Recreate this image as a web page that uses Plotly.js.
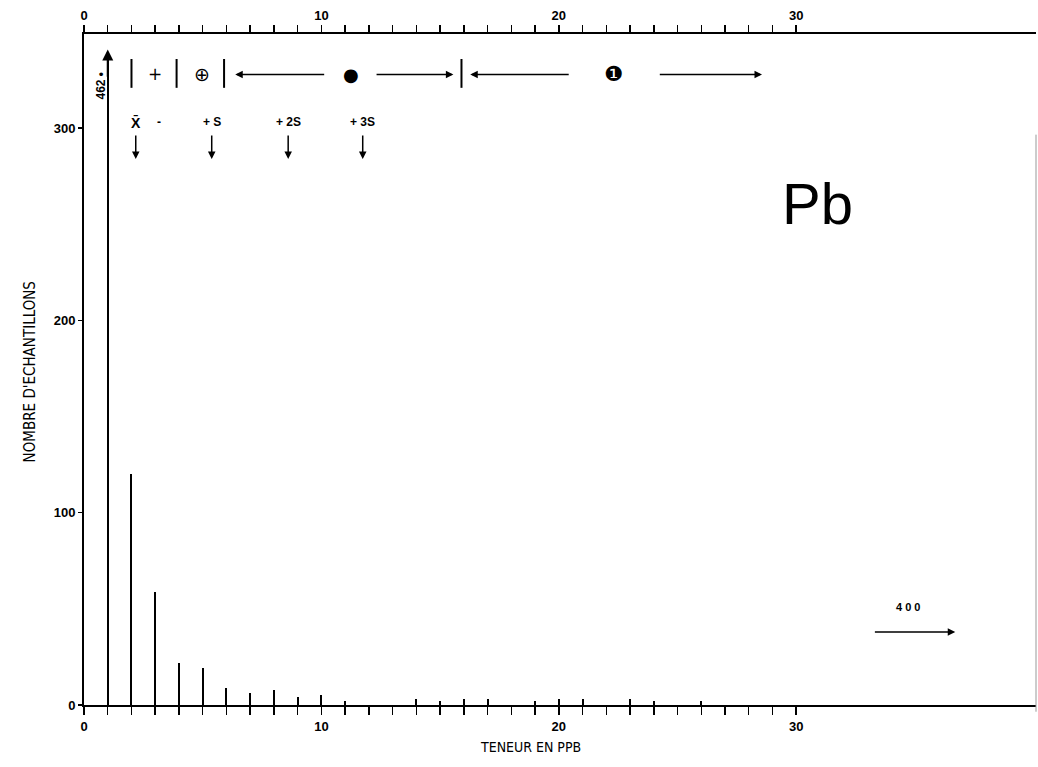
<!DOCTYPE html>
<html><head><meta charset="utf-8">
<script src="https://cdn.plot.ly/plotly-3.0.1.min.js"></script>
<style>html,body{margin:0;padding:0;background:#fff}#chart{width:1038px;height:767px}</style>
</head><body><div id="chart"></div>
<script>
// ---- data ----
const teneur = [1,2,3,4,5,6,7,8,9,10,11,12,13,14,15,16,17,18,19,20,21,22,23,24,25,26,27,28,29,30];
const nombre = [462,120,59,22,19,9,6,8,4,5,2,0,0,3,2,3,3,0,2,3,3,0,3,2,0,2,0,0,0,0];
const classLimits = [2.0, 3.9, 5.9, 15.9];
const classSymbols = ['+', '\u2295', '\u25CF', '\u2776'];
const classSymbolX = [3.0, 4.96, 11.24, 22.3];
const statLabels = ['X\u0304', '-', '+ S', '+ 2S', '+ 3S'];
const statX = [2.18, 3.17, 5.38, 8.6, 11.74];
const xTickVals = [0,1,2,3,4,5,6,7,8,9,10,11,12,13,14,15,16,17,18,19,20,21,22,23,24,25,26,27,28,29,30];
const xTickText = xTickVals.map(v => v % 10 === 0 ? String(v) : '');
const yTickVals = [0, 100, 200, 300];
const outlierLabel = '4 0 0';

// ---- layout constants ----
const yMax = 349, cap = 336;
const numFont = {family: 'Liberation Sans, Arial, sans-serif', size: 13, color: '#000', weight: 'bold'};
const narrow = 'DejaVu Sans Condensed, Liberation Sans Narrow, DejaVu Sans, sans-serif';
const cond = t => '<span style="font-stretch:condensed">' + t + '</span>';

const shown = nombre.map(v => Math.min(v, cap));
const traces = [
  {type: 'bar', x: teneur, y: shown, width: 0.085, marker: {color: '#000', line: {width: 0}}, hoverinfo: 'x+y'},
  {type: 'scatter', x: [0], y: [0], xaxis: 'x2', mode: 'markers', marker: {opacity: 0}, hoverinfo: 'skip', showlegend: false}
];

const ann = [];
const shapes = [];
// off-scale bars: arrowhead + value label
teneur.forEach((t, i) => {
  if (nombre[i] > cap) {
    ann.push({x: t, y: cap + 5, ax: t, ay: cap - 10, xref: 'x', yref: 'y', axref: 'x', ayref: 'y',
      showarrow: true, arrowhead: 2, arrowsize: 1.1, arrowwidth: 2, arrowcolor: '#000', text: ''});
    ann.push({x: t - 0.3, y: 322, xref: 'x', yref: 'y', text: '<b>' + nombre[i] + ' \u2022</b>', textangle: -90,
      showarrow: false, font: {family: 'Liberation Sans, Arial', size: 12, color: '#000'}});
  }
});
// class limits (vertical bars in top row)
classLimits.forEach(x => shapes.push({type: 'line', xref: 'x', yref: 'y', x0: x, x1: x, y0: 321, y1: 336, line: {color: '#000', width: 2}}));
// class symbols
const symSize = [17, 19, 18, 21];
classSymbols.forEach((s, i) => ann.push({x: classSymbolX[i], y: 328, xref: 'x', yref: 'y', text: s, showarrow: false,
  font: {family: 'DejaVu Sans, sans-serif', size: symSize[i], color: '#000'}}));
// class range arrows [head, tail]
const rangeArrows = [[6.37, 10.18], [15.56, 12.26], [16.27, 20.48], [28.56, 24.19]];
rangeArrows.forEach(a => ann.push({x: a[0], y: 328, ax: a[1], ay: 328, xref: 'x', yref: 'y', axref: 'x', ayref: 'y',
  showarrow: true, arrowhead: 2, arrowsize: 1, arrowwidth: 1.5, arrowcolor: '#000', text: ''}));
// statistic labels and down arrows
statLabels.forEach((s, i) => {
  ann.push({x: statX[i], y: 303, xref: 'x', yref: 'y', text: '<b>' + s + '</b>', showarrow: false,
    font: {family: 'Liberation Sans, Arial', size: i === 0 ? 14 : 12, color: '#000'}});
  if (s !== '-') ann.push({x: statX[i], y: 284, ax: statX[i], ay: 297, xref: 'x', yref: 'y', axref: 'x', ayref: 'y',
    showarrow: true, arrowhead: 2, arrowsize: 1, arrowwidth: 1.5, arrowcolor: '#000', text: ''});
});
// element name
ann.push({x: 30.9, y: 261, xref: 'x', yref: 'y', text: 'Pb', showarrow: false,
  font: {family: 'Liberation Sans, Arial, sans-serif', size: 58, color: '#000'}});
// outlier beyond scale
ann.push({x: 34.7, y: 51, xref: 'x', yref: 'y', text: '<b>' + outlierLabel + '</b>', showarrow: false,
  font: {family: 'Liberation Sans, Arial', size: 11, color: '#000'}});
ann.push({x: 36.7, y: 38, ax: 33.25, ay: 38, xref: 'x', yref: 'y', axref: 'x', ayref: 'y',
  showarrow: true, arrowhead: 2, arrowsize: 1, arrowwidth: 1.5, arrowcolor: '#000', text: ''});
// axis titles
ann.push({x: -0.0567, y: 173, xref: 'paper', yref: 'y', text: cond("NOMBRE D'ECHANTILLONS"), textangle: -90, showarrow: false,
  xanchor: 'center', yanchor: 'middle', font: {family: narrow, size: 15, color: '#000'}});
ann.push({x: 0.4685, y: -0.0633, xref: 'paper', yref: 'paper', text: cond('TENEUR EN PPB'), showarrow: false,
  xanchor: 'center', yanchor: 'middle', font: {family: narrow, size: 14, color: '#000'}});
// right edge line (scan border)
shapes.push({type: 'line', xref: 'paper', yref: 'paper', x0: 1, x1: 1, y0: -0.01, y1: 0.85, line: {color: '#999', width: 1}});

const axisCommon = {showgrid: false, zeroline: false, showline: true, linecolor: '#000', linewidth: 2,
  ticks: 'outside', tickcolor: '#000', tickwidth: 1.5, tickfont: numFont};
const layout = {
  width: 1038, height: 767,
  margin: {l: 84, r: 2, t: 34, b: 62},
  paper_bgcolor: '#fff', plot_bgcolor: '#fff',
  showlegend: false, bargap: 0,
  xaxis: Object.assign({}, axisCommon, {range: [0, 40.1], tickmode: 'array', tickvals: xTickVals, ticktext: xTickText, ticklen: 8}),
  xaxis2: Object.assign({}, axisCommon, {overlaying: 'x', side: 'top', anchor: 'y', range: [0, 40.1], tickmode: 'array',
    tickvals: xTickVals, ticktext: xTickText, ticklen: 7}),
  yaxis: Object.assign({}, axisCommon, {range: [0, yMax], tickmode: 'array', tickvals: yTickVals, ticklen: 4}),
  annotations: ann, shapes: shapes
};
Plotly.newPlot('chart', traces, layout, {staticPlot: true});
</script></body></html>
